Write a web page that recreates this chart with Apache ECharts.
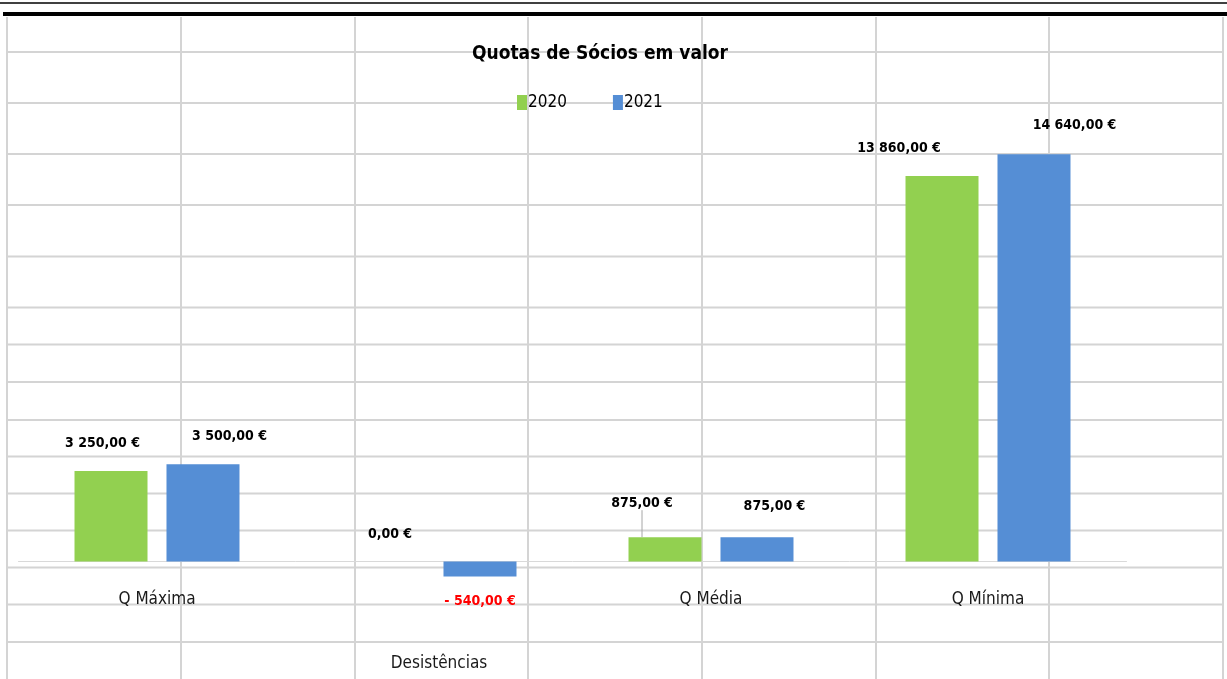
<!DOCTYPE html>
<html>
<head>
<meta charset="utf-8">
<title>Quotas de Sócios em valor</title>
<script src="https://cdn.jsdelivr.net/npm/echarts@6/dist/echarts.min.js"></script>
<style>
  html, body { margin: 0; padding: 0; background: #fff; }
  #myChart { width: 1227px; height: 679px; }
</style>
</head>
<body>
<div id="myChart"></div>
<script>
// dados do gráfico
var categorias = ['Q Máxima', 'Desistências', 'Q Média', 'Q Mínima']
var anos = ['2020', '2021']
var valores2020 = [3250, 0, 875, 13860]
var valores2021 = [3500, -540, 875, 14640]

// deslocamento manual das etiquetas (como no Excel), em px
var deslocEtiquetas = [
  [[-8.5, -21], [2, -20.5], [-23, -27], [-43, -21]],
  [[26.5, -20.5], [0, 17.5], [17.5, -23.5], [40.5, -22]]
]

// grelha da folha de cálculo por trás do gráfico (layout, px)
var colunasFolha = [7, 181, 355, 528, 702, 876, 1049, 1223]
var linhasFolha = [52, 103, 154, 205, 256.5, 307.5, 344.5, 382, 420, 456.5, 493.5, 530.5, 567.5, 604.5, 642]

var fonte = "'DejaVu Sans Condensed', 'Liberation Sans', sans-serif"

function formatEuro(v) {
  var s = Math.abs(v).toFixed(2).replace('.', ',')
  var partes = s.split(',')
  partes[0] = partes[0].replace(/\B(?=(\d{3})+(?!\d))/g, ' ')
  return (v < 0 ? '- ' : '') + partes.join(',') + ' €'
}

function linhasGrelha() {
  var els = []
  colunasFolha.forEach(function(x) {
    els.push({ type: 'line', shape: { x1: x, y1: 17, x2: x, y2: 679 }, style: { stroke: '#d4d4d4', lineWidth: 2 } })
  })
  linhasFolha.forEach(function(y) {
    els.push({ type: 'line', shape: { x1: 7, y1: y, x2: 1223, y2: y }, style: { stroke: '#d4d4d4', lineWidth: 2 } })
  })
  // traços pretos no topo
  els.push({ type: 'line', shape: { x1: 0, y1: 3, x2: 1227, y2: 3 }, style: { stroke: '#000', lineWidth: 1.5 } })
  els.push({ type: 'line', shape: { x1: 3, y1: 14, x2: 1227, y2: 14 }, style: { stroke: '#000', lineWidth: 4 } })
  return els
}

function serieDados(valores, serieIdx) {
  return valores.map(function(v, i) {
    var item = {
      value: v,
      label: {
        position: v < 0 ? 'bottom' : 'top',
        color: v < 0 ? '#ff0000' : '#000'
      }
    }
    if (serieIdx === 0 && i === 2) {
      item.labelLine = { show: true, lineStyle: { color: '#a6a6a6', width: 1 } }
    }
    return item
  })
}

var myChart = echarts.init(document.getElementById('myChart'))

var etiqueta = {
  show: true,
  distance: 0,
  fontFamily: fonte,
  fontSize: 14,
  fontWeight: 'bold',
  formatter: function(p) { return formatEuro(p.value) }
}

var option = {
  animation: false,
  backgroundColor: '#fff',
  textStyle: { fontFamily: fonte },
  graphic: { elements: linhasGrelha(), z: -10 },
  title: {
    text: 'Quotas de Sócios em valor',
    left: 595,
    top: 40,
    textAlign: 'center',
    textStyle: { fontFamily: fonte, fontSize: 19, fontWeight: 'bold', color: '#000' }
  },
  legend: {
    data: anos,
    left: 512,
    top: 89,
    icon: 'rect',
    itemWidth: 10,
    itemHeight: 15,
    itemGap: 46,
    textStyle: { fontFamily: fonte, fontSize: 17, color: '#000', padding: [0, 0, 0, -4] }
  },
  grid: { left: 18.5, right: 100.5, top: 116.5, bottom: 117.5, containLabel: false, outerBoundsMode: 'none' },
  xAxis: {
    type: 'category',
    data: categorias.map(function(c) {
      return c === 'Desistências' ? { value: c, textStyle: { padding: [64, 0, 0, 10] } } : c
    }),
    axisLine: { onZero: true, lineStyle: { color: '#d9d9d9', width: 1 } },
    axisTick: { show: false },
    axisLabel: { margin: 30, fontFamily: fonte, fontSize: 17, color: '#1a1a1a' },
    splitLine: { show: false }
  },
  yAxis: {
    type: 'value',
    min: 0,
    max: 16000,
    show: false,
    splitLine: { show: false }
  },
  series: [
    {
      name: anos[0],
      type: 'bar',
      clip: false,
      barWidth: 73,
      barGap: '26%',
      itemStyle: { color: '#92d050' },
      data: serieDados(valores2020, 0),
      label: etiqueta
    },
    {
      name: anos[1],
      type: 'bar',
      clip: false,
      barWidth: 73,
      barGap: '26%',
      itemStyle: { color: '#558ed5' },
      data: serieDados(valores2021, 1),
      label: etiqueta
    }
  ],
  labelLayout: function(params) {
    var d = deslocEtiquetas[params.seriesIndex][params.dataIndex]
    return { dx: d[0], dy: d[1] }
  }
}

myChart.setOption(option)
</script>
</body>
</html>
